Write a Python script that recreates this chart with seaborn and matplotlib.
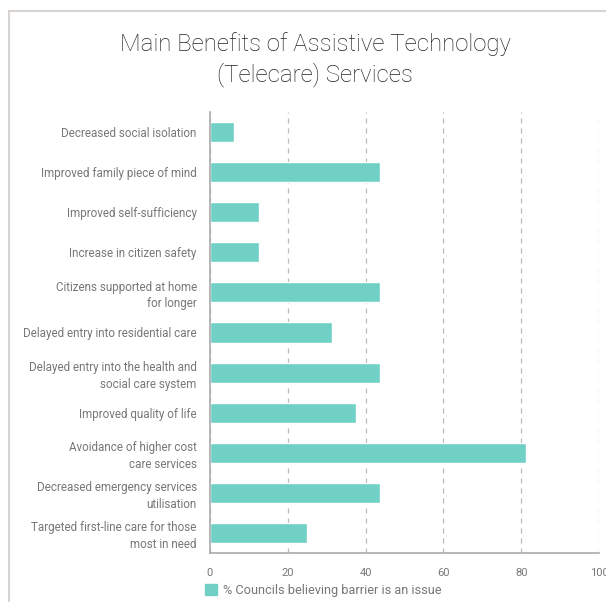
import pandas as pd
import seaborn as sns
import matplotlib.pyplot as plt
from matplotlib.lines import Line2D
from matplotlib.patches import Patch

benefits = [
    "Decreased social isolation",
    "Improved family piece of mind",
    "Improved self-sufficiency",
    "Increase in citizen safety",
    "Citizens supported at home\nfor longer",
    "Delayed entry into residential care",
    "Delayed entry into the health and\nsocial care system",
    "Improved quality of life",
    "Avoidance of higher cost\ncare services",
    "Decreased emergency services\nutilisation",
    "Targeted first-line care for those\nmost in need",
]
pct_councils = [6.25, 43.75, 12.5, 12.5, 43.75, 31.25, 43.75, 37.5, 81.25, 43.75, 25.0]
x_ticks = [0, 20, 40, 60, 80, 100]
series_name = "% Councils believing barrier is an issue"

df = pd.DataFrame({"benefit": benefits, "pct": pct_councils})

sns.set_theme(style="white")
plt.rcParams["font.family"] = ["Roboto", "DejaVu Sans"]

bar_color = "#71d0c6"
text_grey = "#777777"

fig = plt.figure(figsize=(6.06, 6.02), dpi=100)
ax = fig.add_axes([0.3465, 0.0814, 0.6419, 0.7326])

sns.barplot(data=df, x="pct", y="benefit", color=bar_color, width=0.5,
            saturation=1, ax=ax)

ax.set_xlim(0, 100)
ax.set_xticks(x_ticks)
ax.set_xlabel("")
ax.set_ylabel("")
ax.xaxis.grid(True, linestyle=(0, (4, 4)), color="#bbbbbb", linewidth=0.9)
ax.set_axisbelow(True)
ax.tick_params(axis="both", length=0, labelsize=8, labelcolor=text_grey)
ax.tick_params(axis="y", pad=9.5, labelsize=8.4)
ax.tick_params(axis="x", pad=11)
for lbl in ax.get_yticklabels():
    lbl.set_horizontalalignment("right")
    lbl.set_linespacing(1.35)

for side in ["top", "right"]:
    ax.spines[side].set_visible(False)
for side in ["left", "bottom"]:
    ax.spines[side].set_color("#aaaaaa")
    ax.spines[side].set_linewidth(1.2)

fig.text(0.52, 0.901, "Main Benefits of Assistive Technology\n(Telecare) Services",
         ha="center", va="center", fontsize=17.3, fontweight="light",
         color="#222222", linespacing=1.3)

ax.legend(handles=[Patch(color=bar_color, label=series_name)],
          loc="center left", bbox_to_anchor=(0.32, 0.0195), bbox_transform=fig.transFigure,
          frameon=False, fontsize=9.2, labelcolor=text_grey,
          handlelength=0.9, handleheight=0.9, handletextpad=0.5)

# card border (top and left edges)
frame_col = "#d8d4d1"
fig.add_artist(Line2D([9 / 606, 1], [1 - 11 / 602, 1 - 11 / 602],
                      transform=fig.transFigure, color=frame_col, linewidth=1.5))
fig.add_artist(Line2D([9 / 606, 9 / 606], [0, 1 - 11 / 602],
                      transform=fig.transFigure, color=frame_col, linewidth=1.5))

fig.savefig("out.png", dpi=100)
